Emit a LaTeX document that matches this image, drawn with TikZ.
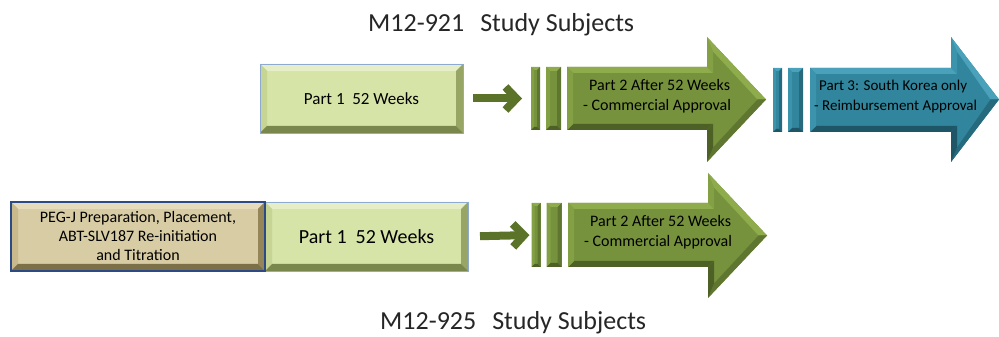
\documentclass[tikz,border=0pt]{standalone}
\usepackage{fontspec}
\setmainfont{Carlito}
\usepackage{tikz}
\usetikzlibrary{arrows.meta}

\definecolor{lmface}{HTML}{D7E4A8}
\definecolor{lmlight}{HTML}{E6EEC8}
\definecolor{lmside}{HTML}{C6D494}
\definecolor{lmdark}{HTML}{97A565}
\definecolor{lmdarker}{HTML}{7A874C}
\definecolor{lmline}{HTML}{8FAACF}
\definecolor{tanface}{HTML}{D8CCA4}
\definecolor{tanlight}{HTML}{E6DCBC}
\definecolor{tanside}{HTML}{C8BA8C}
\definecolor{tandark}{HTML}{948659}
\definecolor{tandarker}{HTML}{7C7049}
\definecolor{tanline}{HTML}{2B4A86}
\definecolor{grnface}{HTML}{76923C}
\definecolor{grnlight}{HTML}{8EAC4C}
\definecolor{grnside}{HTML}{83A044}
\definecolor{grndark}{HTML}{5E7630}
\definecolor{grndarker}{HTML}{4D6127}
\definecolor{bluface}{HTML}{31869D}
\definecolor{blulight}{HTML}{4AA2BA}
\definecolor{bluside}{HTML}{3C94AC}
\definecolor{bludark}{HTML}{266A7D}
\definecolor{bludarker}{HTML}{1F5667}
\definecolor{stepgreen}{HTML}{5B7329}

% bevel facets round a rectangular node: node, bevel, colour prefix
\newcommand{\bevelrect}[3]{%
  \fill[#3light] (#1.north west) -- (#1.north east) -- ([shift={(-#2,-#2)}]#1.north east) -- ([shift={(#2,-#2)}]#1.north west) -- cycle;
  \fill[#3side] (#1.north west) -- (#1.south west) -- ([shift={(#2,#2)}]#1.south west) -- ([shift={(#2,-#2)}]#1.north west) -- cycle;
  \fill[#3dark] (#1.north east) -- (#1.south east) -- ([shift={(-#2,#2)}]#1.south east) -- ([shift={(-#2,-#2)}]#1.north east) -- cycle;
  \fill[#3darker] (#1.south west) -- (#1.south east) -- ([shift={(-#2,#2)}]#1.south east) -- ([shift={(#2,#2)}]#1.south west) -- cycle;
}
% block arrow with bevel: left, bottom, top, head x, head bottom, head top, tip x, colour prefix
\newcommand{\bevelarrow}[8]{%
  \pgfmathsetmacro{\tipy}{(#5+#6)/2}
  \fill[#8face] (#1,#3) -- (#4,#3) -- (#4,#6) -- (#7,\tipy) -- (#4,#5) -- (#4,#2) -- (#1,#2) -- cycle;
  \fill[#8light] (#1,#3) -- (#4,#3) -- (#4+6,#3-6) -- (#1+6,#3-6) -- cycle;
  \fill[#8side] (#4,#3) -- (#4,#6) -- (#4+6,#6-14.5) -- (#4+6,#3-6) -- cycle;
  \fill[#8light] (#4,#6) -- (#7,\tipy) -- (#7-8.5,\tipy) -- (#4+6,#6-14.5) -- cycle;
  \fill[#8dark] (#7,\tipy) -- (#4,#5) -- (#4+6,#5+14.5) -- (#7-8.5,\tipy) -- cycle;
  \fill[#8darker] (#4,#5) -- (#4,#2) -- (#4+6,#2+6) -- (#4+6,#5+14.5) -- cycle;
  \fill[#8darker] (#4,#2) -- (#1,#2) -- (#1+6,#2+6) -- (#4+6,#2+6) -- cycle;
  \fill[#8side] (#1,#2) -- (#1,#3) -- (#1+6,#3-6) -- (#1+6,#2+6) -- cycle;
}

\begin{document}
\begin{tikzpicture}[x=1pt,y=1pt,
    title/.style={font=\fontsize{26}{30}\selectfont, text=black!85, anchor=base west, inner sep=0pt},
    partbox/.style={draw=lmline, line width=0.8pt, fill=lmface, outer sep=0pt, inner sep=0pt,
      minimum width=203pt, minimum height=69pt},
    pegbox/.style={draw=tanline, line width=2pt, fill=tanface, outer sep=0pt, inner sep=0pt,
      minimum width=254pt, minimum height=69pt},
    bar/.style={fill=#1face, outer sep=0pt, inner sep=0pt, minimum height=64pt},
    armtext/.style={anchor=west, inner sep=0pt},
    steparrow/.style={draw=stepgreen, line width=8pt,
      -{Straight Barb[length=11pt,width=23pt]}}]
  \useasboundingbox (0,0) rectangle (999,337);

  % titles
  \node[title] (t1) at (368,305) {M12-921\hspace{16pt}Study Subjects};
  \node[title] (t2) at (380,7) {M12-925\hspace{16pt}Study Subjects};

  % upper row
  \node[partbox] (p1a) at (361.5,238.5) {};
  \bevelrect{p1a}{7}{lm}
  \draw[lmline, line width=0.8pt] (p1a.north west) rectangle (p1a.south east);
  \node[font=\fontsize{17}{20}\selectfont] at (p1a.center) {Part 1~ 52 Weeks};

  \node[bar=grn, minimum width=9pt, minimum height=63pt] (bar1a) at (535.5,238.5) {};
  \bevelrect{bar1a}{3}{grn}
  \node[bar=grn, minimum width=15pt, minimum height=63pt] (bar2a) at (553.5,238.5) {};
  \bevelrect{bar2a}{4}{grn}
  \draw[steparrow, shorten <=10pt, shorten >=9pt] (p1a.east) -- (bar1a.west);

  \bevelarrow{567}{207}{270}{707}{175}{300}{766}{grn}
  \node[armtext] (p2a) at (589,240) {\fontsize{16}{20}\selectfont
    \begin{tabular}{@{}l@{}}Part 2 After 52 Weeks\\\hspace*{-6pt}- Commercial Approval\end{tabular}};

  \node[bar=blu, minimum width=9pt] (bar3a) at (777.5,237) {};
  \bevelrect{bar3a}{3}{blu}
  \node[bar=blu, minimum width=15pt] (bar4a) at (795.5,237) {};
  \bevelrect{bar4a}{4}{blu}

  \bevelarrow{810}{205}{269}{951}{175}{300}{999}{blu}
  \node[armtext] (p3a) at (819,240) {\fontsize{15}{20}\selectfont
    \begin{tabular}{@{}l@{}}Part 3: South Korea only\\\hspace*{-5pt}- Reimbursement Approval\end{tabular}};

  % lower row
  \node[pegbox] (peg) at (138,100.5) {};
  \bevelrect{peg}{7}{tan}
  \node[partbox] (p1b) at (366.5,100.5) {};
  \bevelrect{p1b}{7}{lm}
  \draw[lmline, line width=0.8pt] (p1b.north west) rectangle (p1b.south east);
  \draw[tanline, line width=2pt] (peg.north west) rectangle (peg.south east);
  \node[align=center, font=\fontsize{16}{19}\selectfont] at (peg.center)
    {PEG-J Preparation, Placement,\\ABT-SLV187 Re-initiation\\and Titration};
  \node[font=\fontsize{20}{24}\selectfont] at (p1b.center) {Part 1~ 52 Weeks};

  \node[bar=grn, minimum width=9pt] (bar1b) at (536,102) {};
  \bevelrect{bar1b}{3}{grn}
  \node[bar=grn, minimum width=15pt] (bar2b) at (554,102) {};
  \bevelrect{bar2b}{4}{grn}
  \draw[steparrow, shorten <=12pt, shorten >=2pt] (p1b.east) -- (bar1b.west);

  \bevelarrow{568}{70}{134}{708}{39}{164}{767}{grn}
  \node[armtext] (p2b) at (590,104) {\fontsize{16}{20}\selectfont
    \begin{tabular}{@{}l@{}}Part 2 After 52 Weeks\\\hspace*{-6pt}- Commercial Approval\end{tabular}};
\end{tikzpicture}
\end{document}
